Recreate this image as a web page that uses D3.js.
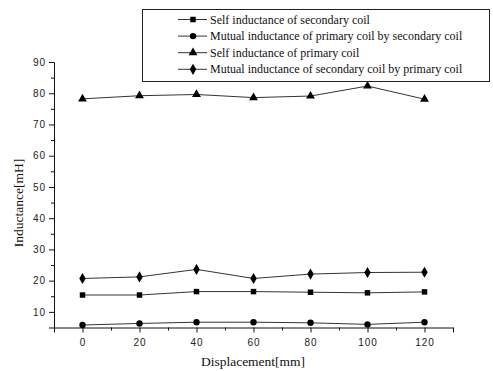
<!DOCTYPE html>
<html>
<head>
<meta charset="utf-8">
<script src="https://cdn.jsdelivr.net/npm/d3@7"></script>
<style>
  body { margin: 0; background: #fff; }
  svg { display: block; }
  .tick text { font-family: "Liberation Sans", Arial, sans-serif; font-size: 10px; fill: #222; letter-spacing: 1px; }
</style>
</head>
<body>
<div id="chart"></div>
<script>
var displacement = [0, 20, 40, 60, 80, 100, 120]
var selfSecondary = [15.4, 15.4, 16.5, 16.5, 16.3, 16.1, 16.4]
var mutualPrimaryBySecondary = [5.8, 6.3, 6.7, 6.7, 6.5, 6.0, 6.7]
var selfPrimary = [78.2, 79.2, 79.6, 78.6, 79.1, 82.3, 78.1]
var mutualSecondaryByPrimary = [20.7, 21.2, 23.6, 20.7, 22.1, 22.6, 22.7]
var xTicks = [0, 20, 40, 60, 80, 100, 120]
var yTicks = [10, 20, 30, 40, 50, 60, 70, 80, 90]

var series = [
  { name: 'Self inductance of secondary coil', values: selfSecondary, symbol: d3.symbolSquare, size: 30 },
  { name: 'Mutual inductance of primary coil by secondary coil', values: mutualPrimaryBySecondary, symbol: d3.symbolCircle, size: 32 },
  { name: 'Self inductance of primary coil', values: selfPrimary, symbol: d3.symbolTriangle, size: 34 },
  { name: 'Mutual inductance of secondary coil by primary coil', values: mutualSecondaryByPrimary, symbol: d3.symbolDiamond, size: 36 }
]

var width = 493, height = 371
var svg = d3.select('#chart').append('svg')
  .attr('width', width)
  .attr('height', height)

// plot area
var x = d3.scaleLinear().domain([-10, 130]).range([54, 453])
var y = d3.scaleLinear().domain([5, 90]).range([327.5, 62])

var xAxis = svg.append('g')
  .attr('transform', 'translate(0,' + y(5) + ')')
  .call(d3.axisBottom(x).tickValues(xTicks).tickSize(5).tickPadding(6).tickFormat(d3.format('d')))
xAxis.select('.domain').attr('stroke', '#111')
xAxis.selectAll('.tick line').attr('stroke', '#111')

// minor ticks on x
svg.append('g')
  .attr('transform', 'translate(0,' + y(5) + ')')
  .call(d3.axisBottom(x).tickValues([-10, 10, 30, 50, 70, 90, 110, 130]).tickSize(3).tickFormat(''))
  .call(g => g.select('.domain').remove())
  .selectAll('.tick line').attr('stroke', '#111')

var yAxis = svg.append('g')
  .attr('transform', 'translate(' + x(-10) + ',0)')
  .call(d3.axisLeft(y).tickValues(yTicks).tickSize(5).tickPadding(3).tickFormat(d3.format('d')))
yAxis.select('.domain').attr('stroke', '#111')
yAxis.selectAll('.tick line').attr('stroke', '#111')

svg.append('g')
  .attr('transform', 'translate(' + x(-10) + ',0)')
  .call(d3.axisLeft(y).tickValues([15, 25, 35, 45, 55, 65, 75, 85]).tickSize(3).tickFormat(''))
  .call(g => g.select('.domain').remove())
  .selectAll('.tick line').attr('stroke', '#111')

var line = d3.line()
  .x((d, i) => x(displacement[i]))
  .y(d => y(d))

series.forEach(s => {
  svg.append('path')
    .datum(s.values)
    .attr('d', line)
    .attr('fill', 'none')
    .attr('stroke', '#333')
    .attr('stroke-width', 1)

  svg.selectAll(null)
    .data(s.values)
    .enter().append('path')
    .attr('d', d3.symbol().type(s.symbol).size(s.size))
    .attr('transform', (d, i) => 'translate(' + x(displacement[i]) + ',' + y(d) + ')')
    .attr('fill', '#000')
})

// legend
var legend = svg.append('g')
legend.append('rect')
  .attr('x', 142.5).attr('y', 9.5)
  .attr('width', 347).attr('height', 72)
  .attr('fill', '#fff')
  .attr('stroke', '#222')
  .attr('stroke-width', 1)

series.forEach((s, i) => {
  var ly = 19.5 + i * 16.6
  legend.append('line')
    .attr('x1', 178).attr('x2', 207)
    .attr('y1', ly).attr('y2', ly)
    .attr('stroke', '#333')
  legend.append('path')
    .attr('d', d3.symbol().type(s.symbol).size(s.size))
    .attr('transform', 'translate(193,' + ly + ')')
    .attr('fill', '#000')
  legend.append('text')
    .attr('x', 210).attr('y', ly + 4)
    .attr('font-family', '"Liberation Serif", "Times New Roman", serif')
    .attr('font-size', 12)
    .attr('fill', '#111')
    .text(s.name)
})

svg.append('text')
  .attr('x', 253).attr('y', 366)
  .attr('text-anchor', 'middle')
  .attr('font-family', '"Liberation Serif", "Times New Roman", serif')
  .attr('font-size', 13.5)
  .attr('fill', '#111')
  .text('Displacement[mm]')

svg.append('text')
  .attr('transform', 'translate(23,203) rotate(-90)')
  .attr('text-anchor', 'middle')
  .attr('font-family', '"Liberation Serif", "Times New Roman", serif')
  .attr('font-size', 13.5)
  .attr('fill', '#111')
  .text('Inductance[mH]')
</script>
</body>
</html>
